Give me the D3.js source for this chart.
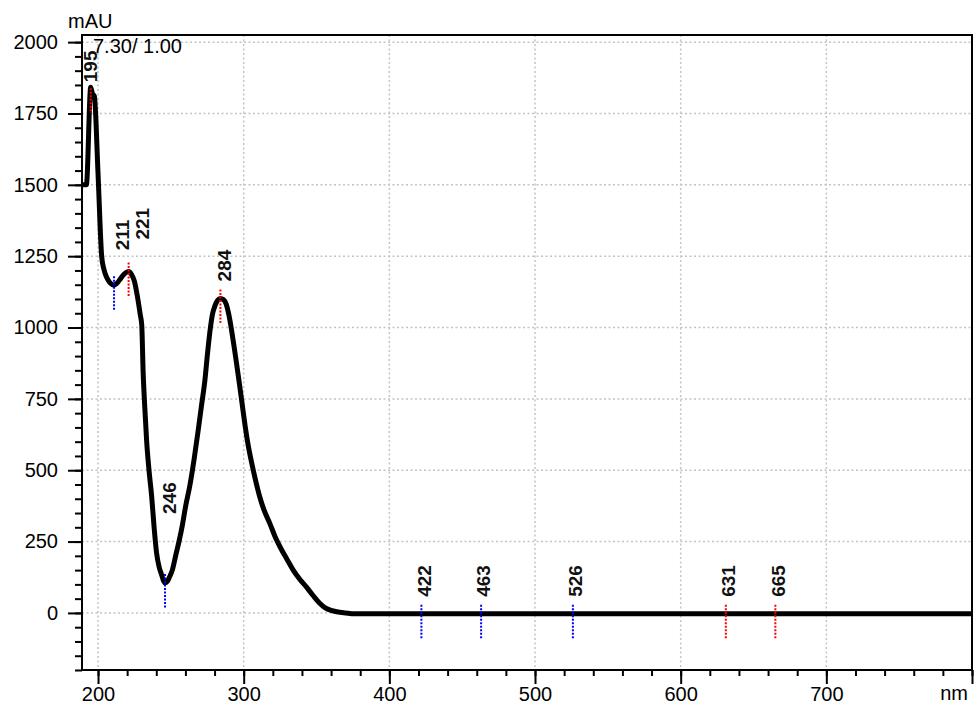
<!DOCTYPE html>
<html>
<head>
<meta charset="utf-8">
<script src="https://cdn.jsdelivr.net/npm/d3@7"></script>
<style>
  body { margin: 0; background: #fff; }
  svg text { font-family: "Liberation Sans", Arial, sans-serif; }
</style>
</head>
<body>
<div id="chart"></div>
<script>
// spectrum (nm, mAU)
const wavelengths = [189, 192, 195, 196, 197.5, 200, 202.5, 204, 206, 208, 210, 211, 213, 215, 217, 219, 221, 223, 225, 227, 229, 230, 231, 232, 233.4, 235, 236.8, 238.5, 240.2, 242, 243.6, 245, 246, 247.5, 249, 251, 253.5, 255.8, 258, 260, 263, 266, 268.8, 271, 273.4, 275, 276.8, 278.5, 280.2, 282, 284, 286, 288, 290, 291.7, 293.5, 295.1, 297, 299, 301, 303, 305.4, 308, 311, 314, 318, 321.5, 325, 329.5, 334, 338.5, 343, 347.5, 352, 356, 360, 364, 370, 376, 800];
const absorbance = [1500, 1500, 1842, 1822, 1810, 1540, 1250, 1205, 1175, 1158, 1150, 1148, 1155, 1168, 1182, 1192, 1196, 1186, 1162, 1110, 1045, 1010, 840, 730, 600, 500, 410, 300, 210, 160, 135, 112, 105, 110, 125, 150, 205, 255, 310, 370, 445, 540, 641, 725, 816, 900, 985, 1045, 1075, 1095, 1102, 1098, 1082, 1040, 990, 930, 874, 805, 730, 655, 590, 528, 468, 407, 360, 313, 268, 231, 190, 150, 118, 91, 62, 35, 18, 9, 4, 0, -3, -3];

// peak / valley markers
const peakNm = [195, 211, 221, 246, 284, 422, 463, 526, 631, 665];
const peakVal = [1842, 1148, 1196, 105, 1102, -3, -3, -3, -3, -3];
const peakType = ["max", "min", "max", "min", "max", "min", "min", "min", "max", "max"];
// how far each label sits from its marker (px)
const labelDx = [0, 8, 14, 4, 4, 3, 2, 3, 3, 3];
const labelLift = [5, 35, 32, 69, 17, 17, 17, 17, 17, 17];

const xTicks = [200, 300, 400, 500, 600, 700, 800];
const yTicks = [0, 250, 500, 750, 1000, 1250, 1500, 1750, 2000];

const width = 976;
const height = 709;
const m = { left: 82, right: 972, top: 35, bottom: 670 };

const svg = d3
  .select("#chart")
  .append("svg")
  .attr("width", width)
  .attr("height", height);

const x = d3.scaleLinear().domain([189, 800]).range([m.left, m.right]);
const y = d3.scaleLinear().domain([-200, 2025]).range([m.bottom, m.top]);

// grid
svg.append("g")
  .selectAll("line")
  .data(xTicks.filter((d) => d < 800))
  .join("line")
  .attr("x1", (d) => x(d)).attr("x2", (d) => x(d))
  .attr("y1", m.top).attr("y2", m.bottom)
  .attr("stroke", "#c4c4c4").attr("stroke-width", 1.5)
  .attr("stroke-dasharray", "2,2.5");

svg.append("g")
  .selectAll("line")
  .data(yTicks)
  .join("line")
  .attr("x1", m.left).attr("x2", m.right)
  .attr("y1", (d) => y(d)).attr("y2", (d) => y(d))
  .attr("stroke", "#c4c4c4").attr("stroke-width", 1.5)
  .attr("stroke-dasharray", "2,2.5");

// axes
const xAxis = d3.axisBottom(x).tickValues(xTicks).tickSize(14).tickPadding(3)
  .tickFormat((d) => (d === 800 ? "" : d));
const xMinor = d3.axisBottom(x).tickValues(d3.range(200, 801, 20)).tickSize(6).tickFormat("");
const yAxis = d3.axisLeft(y).tickValues(yTicks).tickSize(14).tickPadding(10).tickFormat(d3.format("d"));
const yMinor = d3.axisLeft(y).tickValues(d3.range(-200, 2001, 50)).tickSize(7).tickFormat("");

function styleAxis(g) {
  g.select(".domain").remove();
  g.selectAll("line").attr("stroke", "#000").attr("stroke-width", 2);
  g.selectAll("text").attr("fill", "#000").style("font-size", "20px");
}

svg.append("g").attr("transform", `translate(0, ${m.bottom})`).call(xMinor).call(styleAxis);
svg.append("g").attr("transform", `translate(0, ${m.bottom})`).call(xAxis).call(styleAxis);
svg.append("g").attr("transform", `translate(${m.left}, 0)`).call(yMinor).call(styleAxis);
svg.append("g").attr("transform", `translate(${m.left}, 0)`).call(yAxis).call(styleAxis);

// frame
svg.append("rect")
  .attr("x", m.left).attr("y", m.top)
  .attr("width", m.right - m.left).attr("height", m.bottom - m.top)
  .attr("fill", "none").attr("stroke", "#000").attr("stroke-width", 2);

// spectrum
svg.append("clipPath").attr("id", "plot")
  .append("rect").attr("x", m.left).attr("y", m.top)
  .attr("width", m.right - m.left).attr("height", m.bottom - m.top);

const line = d3.line()
  .x((d, i) => x(wavelengths[i]))
  .y((d) => y(d))
  .curve(d3.curveMonotoneX);

svg.append("path")
  .datum(absorbance)
  .attr("clip-path", "url(#plot)")
  .attr("d", line)
  .attr("fill", "none")
  .attr("stroke", "#000")
  .attr("stroke-width", 5)
  .attr("stroke-linejoin", "round");

// markers + labels
const peaks = peakNm.map((nm, i) => ({
  nm, v: peakVal[i], type: peakType[i], dx: labelDx[i], lift: labelLift[i],
}));

svg.append("g")
  .selectAll("line")
  .data(peaks)
  .join("line")
  .attr("x1", (d) => x(d.nm)).attr("x2", (d) => x(d.nm))
  .attr("y1", (d) => Math.max(y(d.v) - 9, y(d.v) - d.lift + 6))
  .attr("y2", (d) => y(d.v) + 26)
  .attr("stroke", (d) => (d.type === "max" ? "#ff0000" : "#0000ff"))
  .attr("stroke-width", 2)
  .attr("stroke-dasharray", "2,1.5");

svg.append("g")
  .selectAll("text")
  .data(peaks)
  .join("text")
  .attr("transform", (d) => `translate(${x(d.nm) + d.dx}, ${y(d.v) - d.lift}) rotate(-90)`)
  .attr("dominant-baseline", "central")
  .style("font-size", "19px")
  .style("font-weight", "bold")
  .attr("fill", "#111")
  .text((d) => d.nm);

// titles
svg.append("text").attr("x", 68).attr("y", 27.5).style("font-size", "20px").text("mAU");
svg.append("text").attr("x", 93).attr("y", 52.5).style("font-size", "20px").text("7.30/ 1.00");
svg.append("text").attr("x", 968).attr("y", 700).attr("text-anchor", "end").style("font-size", "20px").text("nm");
</script>
</body>
</html>
